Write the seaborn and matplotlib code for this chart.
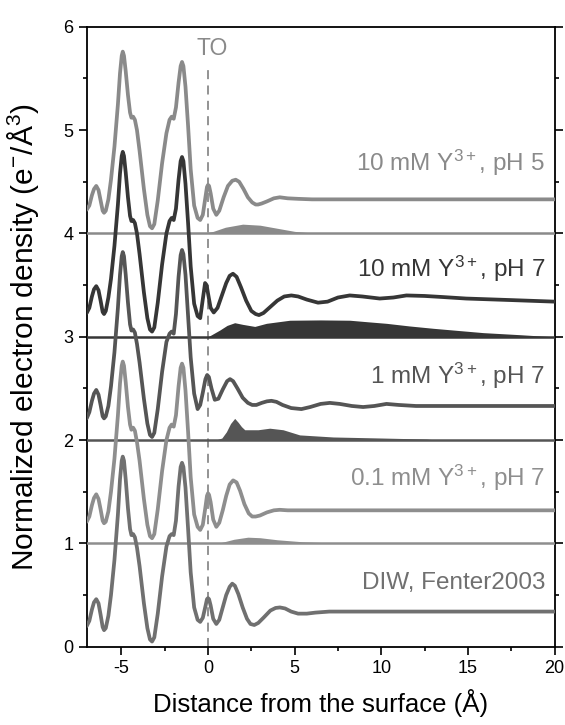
import numpy as np
import pandas as pd
import matplotlib
matplotlib.use("Agg")
import matplotlib.pyplot as plt
import seaborn as sns
from matplotlib.ticker import MultipleLocator

# ---------------- data ----------------
labels = ["DIW, Fenter2003", "0.1 mM $\\mathregular{Y^{3+}}$, pH 7", "1 mM $\\mathregular{Y^{3+}}$, pH 7",
          "10 mM $\\mathregular{Y^{3+}}$, pH 7", "10 mM $\\mathregular{Y^{3+}}$, pH 5"]
offsets = [0, 1, 2, 3, 4]

# substrate part (shared x positions)
x_substrate = [-7.0, -6.85, -6.7, -6.58, -6.45, -6.32, -6.2, -6.08, -6.0, -5.9, -5.75, -5.6,
               -5.4, -5.2, -5.08, -4.98, -4.92, -4.85, -4.75, -4.62, -4.5, -4.42, -4.32, -4.22,
               -4.1, -3.95, -3.7, -3.5, -3.35, -3.23, -3.1, -2.9, -2.65, -2.4, -2.22, -2.1,
               -1.98, -1.85, -1.7, -1.58, -1.5, -1.42, -1.3, -1.15, -1.0, -0.8, -0.6]
y_sub_diw = [0.20, 0.25, 0.36, 0.43, 0.46, 0.42, 0.31, 0.19, 0.16, 0.18, 0.30, 0.50,
             0.84, 1.28, 1.62, 1.80, 1.84, 1.80, 1.62, 1.34, 1.14, 1.08, 1.09, 1.06,
             0.96, 0.78, 0.42, 0.18, 0.07, 0.05, 0.09, 0.32, 0.68, 0.97, 1.07, 1.09,
             1.08, 1.22, 1.55, 1.74, 1.78, 1.74, 1.54, 1.14, 0.72, 0.38, 0.26]
y_sub_01 = [0.21, 0.26, 0.37, 0.44, 0.475, 0.43, 0.33, 0.22, 0.195, 0.21, 0.31, 0.50,
            0.82, 1.24, 1.55, 1.72, 1.76, 1.72, 1.56, 1.32, 1.15, 1.10, 1.12, 1.09,
            0.98, 0.80, 0.43, 0.18, 0.07, 0.05, 0.09, 0.33, 0.70, 1.00, 1.12, 1.15,
            1.13, 1.24, 1.52, 1.70, 1.74, 1.70, 1.48, 1.08, 0.64, 0.28, 0.16]
y_sub_1 = [0.21, 0.27, 0.38, 0.45, 0.485, 0.44, 0.34, 0.23, 0.21, 0.23, 0.33, 0.52,
           0.85, 1.28, 1.60, 1.78, 1.82, 1.78, 1.60, 1.33, 1.12, 1.06, 1.07, 1.04,
           0.93, 0.75, 0.40, 0.16, 0.05, 0.03, 0.07, 0.30, 0.66, 0.95, 1.03, 1.05,
           1.03, 1.22, 1.58, 1.79, 1.84, 1.80, 1.60, 1.20, 0.80, 0.45, 0.30]
y_sub_10 = [0.23, 0.28, 0.39, 0.46, 0.49, 0.45, 0.35, 0.24, 0.22, 0.25, 0.38, 0.56,
            0.88, 1.28, 1.58, 1.75, 1.79, 1.75, 1.59, 1.35, 1.17, 1.12, 1.13, 1.10,
            1.00, 0.80, 0.43, 0.18, 0.07, 0.05, 0.09, 0.33, 0.70, 1.00, 1.12, 1.15,
            1.13, 1.24, 1.52, 1.70, 1.74, 1.70, 1.48, 1.10, 0.68, 0.32, 0.20]
y_sub_ph5 = [0.23, 0.27, 0.37, 0.43, 0.46, 0.42, 0.32, 0.22, 0.20, 0.22, 0.33, 0.52,
             0.84, 1.25, 1.55, 1.72, 1.76, 1.72, 1.57, 1.34, 1.17, 1.12, 1.13, 1.10,
             1.00, 0.80, 0.43, 0.18, 0.07, 0.05, 0.09, 0.32, 0.68, 0.97, 1.10, 1.13,
             1.11, 1.22, 1.46, 1.62, 1.66, 1.62, 1.42, 1.04, 0.62, 0.27, 0.15]

# interface / water part
x_wat_diw = [-0.45, -0.3, -0.15, -0.06, 0.0, 0.06, 0.15, 0.3, 0.48, 0.65, 0.85, 1.05, 1.25,
             1.4, 1.55, 1.75, 2.0, 2.25, 2.45, 2.67, 2.9, 3.2, 3.6, 3.9, 4.15, 4.45, 4.8, 5.2,
             5.7, 6.2, 7.0, 20]
y_wat_diw = [0.24, 0.28, 0.39, 0.46, 0.47, 0.46, 0.40, 0.27, 0.22, 0.26, 0.38, 0.50, 0.58,
             0.61, 0.59, 0.51, 0.38, 0.27, 0.22, 0.21, 0.23, 0.28, 0.35, 0.375, 0.38, 0.37, 0.34,
             0.32, 0.32, 0.33, 0.34, 0.34]
x_wat_01 = [-0.45, -0.3, -0.15, -0.06, 0.0, 0.06, 0.15, 0.3, 0.48, 0.65, 0.85, 1.05, 1.25,
            1.45, 1.65, 1.85, 2.1, 2.35, 2.55, 2.75, 3.0, 3.4, 3.8, 4.14, 4.6, 5.2, 20]
y_wat_01 = [0.13, 0.18, 0.35, 0.46, 0.485, 0.47, 0.40, 0.23, 0.16, 0.20, 0.32, 0.46, 0.57,
            0.61, 0.59, 0.51, 0.38, 0.29, 0.26, 0.26, 0.27, 0.30, 0.32, 0.325, 0.32, 0.32, 0.32]
x_wat_1 = [-0.45, -0.3, -0.15, -0.05, 0.05, 0.2, 0.39, 0.6, 0.85, 1.1, 1.27, 1.45, 1.7, 2.0,
           2.3, 2.55, 2.79, 3.1, 3.4, 3.66, 3.95, 4.3, 4.8, 5.39, 5.9, 6.5, 7.03, 7.6, 8.3,
           8.95, 9.6, 10.3, 11.0, 12.0, 13.5, 15.5, 20]
y_wat_1 = [0.34, 0.46, 0.59, 0.63, 0.61, 0.50, 0.39, 0.40, 0.49, 0.57, 0.59, 0.57, 0.50, 0.41,
           0.36, 0.34, 0.34, 0.36, 0.375, 0.38, 0.37, 0.34, 0.31, 0.30, 0.32, 0.35, 0.36, 0.35,
           0.33, 0.32, 0.33, 0.35, 0.34, 0.33, 0.33, 0.33, 0.33]
x_wat_10 = [-0.45, -0.32, -0.17, -0.08, 0.0, 0.15, 0.33, 0.55, 0.8, 1.05, 1.25, 1.44, 1.65,
            1.9, 2.2, 2.5, 2.75, 2.94, 3.2, 3.6, 4.0, 4.4, 4.81, 5.2, 5.7, 6.35, 6.9, 7.5,
            8.18, 8.9, 9.91, 10.7, 11.45, 12.5, 13.5, 14.9, 17.5, 20]
y_wat_10 = [0.18, 0.34, 0.52, 0.50, 0.42, 0.28, 0.235, 0.28, 0.40, 0.52, 0.59, 0.61, 0.58,
            0.48, 0.35, 0.25, 0.22, 0.21, 0.23, 0.29, 0.35, 0.39, 0.40, 0.39, 0.36, 0.33, 0.34,
            0.38, 0.40, 0.39, 0.37, 0.38, 0.40, 0.395, 0.385, 0.37, 0.355, 0.34]
x_wat_ph5 = [-0.45, -0.3, -0.15, -0.06, 0.0, 0.06, 0.15, 0.3, 0.48, 0.65, 0.9, 1.15, 1.4, 1.6,
             1.8, 2.05, 2.3, 2.55, 2.75, 2.89, 3.1, 3.4, 3.8, 4.14, 4.6, 5.2, 6.0, 20]
y_wat_ph5 = [0.13, 0.18, 0.35, 0.45, 0.47, 0.46, 0.39, 0.24, 0.18, 0.22, 0.35, 0.46, 0.51, 0.52,
             0.50, 0.43, 0.35, 0.30, 0.28, 0.28, 0.29, 0.31, 0.34, 0.35, 0.34, 0.335, 0.33, 0.33]

# Y3+ distributions (filled)
fill_x_01 = [0.4, 0.8, 1.5, 2.3, 3.0, 4.0, 5.5, 7.0, 8.5]
fill_y_01 = [0.0, 0.01, 0.04, 0.06, 0.055, 0.035, 0.015, 0.005, 0.0]
fill_x_1 = [0.45, 0.8, 1.06, 1.3, 1.54, 1.75, 1.93, 2.12, 2.89, 3.56, 4.33, 5.29, 7.22, 10.0, 12.6, 13.2]
fill_y_1 = [0.0, 0.02, 0.08, 0.16, 0.21, 0.17, 0.13, 0.10, 0.10, 0.115, 0.10, 0.05, 0.03, 0.02, 0.01, 0.0]
fill_x_10 = [0.0, 0.68, 1.1, 1.54, 2.0, 2.7, 3.37, 4.72, 6.5, 8.18, 9.15, 10.3, 11.6, 12.99, 14.5,
             15.88, 18.0, 19.92]
fill_y_10 = [0.0, 0.065, 0.11, 0.136, 0.12, 0.10, 0.13, 0.16, 0.163, 0.16, 0.146, 0.13, 0.105,
             0.082, 0.06, 0.04, 0.02, 0.0]
fill_x_ph5 = [-0.3, 0.3, 1.0, 2.0, 3.0, 4.0, 5.0, 6.3]
fill_y_ph5 = [0.0, 0.02, 0.06, 0.09, 0.08, 0.05, 0.02, 0.0]

colors = ["#707070", "#8e8e8e", "#555555", "#363636", "#8a8a8a"]
label_y = [0.62, 1.63, 2.62, 3.66, 4.68]

# ---------------- plotting ----------------
sns.set_theme(style="ticks")
plt.rcParams["font.family"] = ["Liberation Sans", "DejaVu Sans"]
plt.rcParams["mathtext.fontset"] = "custom"
plt.rcParams["mathtext.rm"] = "Liberation Sans"
plt.rcParams["mathtext.it"] = "Liberation Sans:italic"
plt.rcParams["mathtext.bf"] = "Liberation Sans:bold"
plt.rcParams["axes.unicode_minus"] = False

fig = plt.figure(figsize=(5.65, 7.25), dpi=100)
ax = fig.add_axes([0.1535, 0.108, 0.828, 0.855])

curves = [
    (y_sub_diw, x_wat_diw, y_wat_diw, None, None),
    (y_sub_01, x_wat_01, y_wat_01, fill_x_01, fill_y_01),
    (y_sub_1, x_wat_1, y_wat_1, fill_x_1, fill_y_1),
    (y_sub_10, x_wat_10, y_wat_10, fill_x_10, fill_y_10),
    (y_sub_ph5, x_wat_ph5, y_wat_ph5, fill_x_ph5, fill_y_ph5),
]

# draw top curve first so lower curves lie on top
for i in reversed(range(5)):
    ysub, xw, yw, fx, fy = curves[i]
    off = offsets[i]
    c = colors[i]
    z = 3 + (5 - i)
    if fx is not None:
        ax.fill_between(fx, off, np.array(fy) + off, color=c, lw=0, zorder=z - 0.5)
        ax.axhline(off, color=c, lw=1.8, zorder=z - 0.4)
    df = pd.DataFrame({"x": list(x_substrate) + list(xw),
                       "y": np.array(list(ysub) + list(yw)) + off})
    sns.lineplot(data=df, x="x", y="y", ax=ax, color=c, lw=2.7, estimator=None,
                 sort=False, zorder=z)
    ax.text(19.45, label_y[i], labels[i], color=c, fontsize=17.5, ha="right", va="center",
            zorder=10)

for ln in ax.get_lines():
    ln.set_solid_joinstyle("round")
    ln.set_solid_capstyle("round")

ax.plot([0, 0], [0, 5.6], ls=(0, (5, 3.5)), color="#8a8a8a", lw=1.3, zorder=2)
ax.text(0.24, 5.79, "TO", color="#8a8a8a", fontsize=16.5, ha="center", va="center")

ax.set_xlim(-7.0, 20)
ax.set_ylim(0, 6)
ax.xaxis.set_major_locator(MultipleLocator(5))
ax.xaxis.set_minor_locator(MultipleLocator(2.5))
ax.yaxis.set_major_locator(MultipleLocator(1))
ax.yaxis.set_minor_locator(MultipleLocator(0.5))
ax.tick_params(which="both", direction="out", left=True, right=True, bottom=True, top=False,
               labelright=False, color="black", labelsize=13, labelcolor="black")
ax.tick_params(which="major", length=6, width=1.2)
ax.tick_params(which="minor", length=3, width=1.2)
for s in ax.spines.values():
    s.set_visible(True)
    s.set_linewidth(1.3)
    s.set_color("black")

ax.set_xlabel("Distance from the surface (Å)", fontsize=18.5, color="black", labelpad=9)
ax.set_ylabel("Normalized electron density (e$^{-}$/Å$^{3}$)", fontsize=21.5, color="black")
ax.yaxis.set_label_coords(-0.098, 0.5)

fig.savefig("out.png", dpi=100)
